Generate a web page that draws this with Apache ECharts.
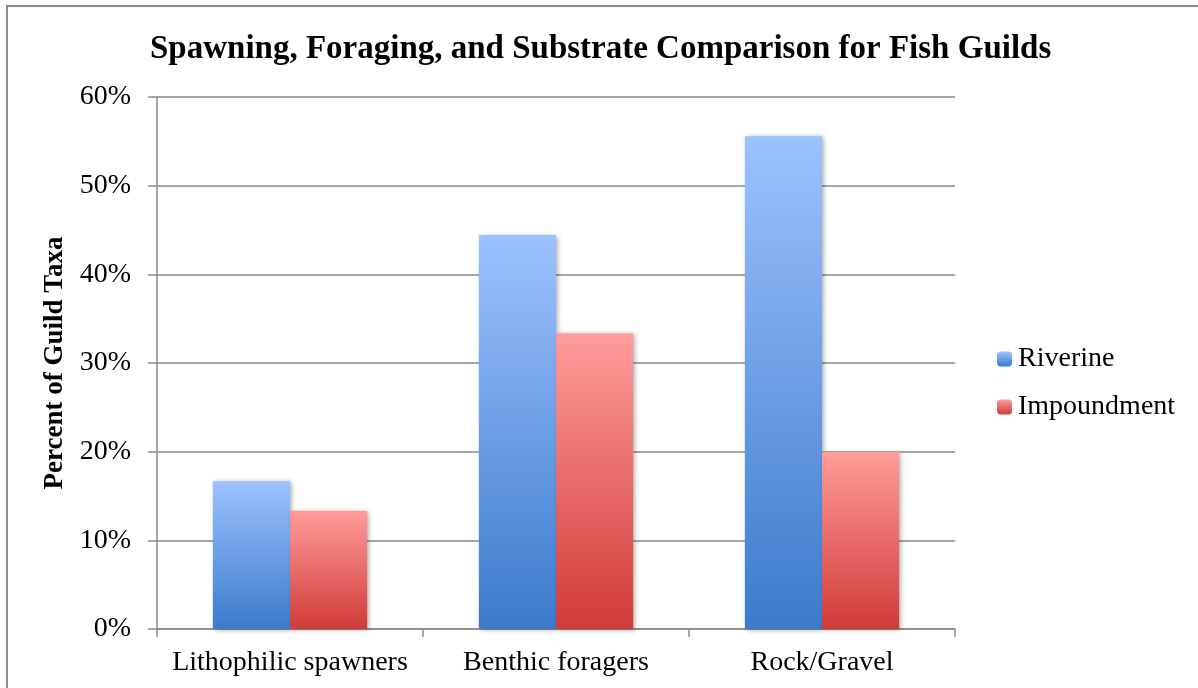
<!DOCTYPE html>
<html>
<head>
<meta charset="utf-8">
<script src="https://cdn.jsdelivr.net/npm/echarts@6/dist/echarts.min.js"></script>
<style>
  html, body { margin: 0; padding: 0; background: #fff; }
  #chart { width: 1198px; height: 688px; }
</style>
</head>
<body>
<div id="chart"></div>
<script>
// Guild categories and the share of taxa (percent) in each habitat
const categories = ['Lithophilic spawners', 'Benthic foragers', 'Rock/Gravel'];
const riverine = [16.67, 44.44, 55.56];
const impoundment = [13.33, 33.33, 20.0];
const yTicks = { min: 0, max: 60, interval: 10 };

const FONT = '"Liberation Serif", "DejaVu Serif", serif';
const GRID_COLOR = '#8a8a8a';

function vGrad(top, bottom) {
  return new echarts.graphic.LinearGradient(0, 0, 0, 1, [
    { offset: 0, color: top },
    { offset: 1, color: bottom }
  ]);
}

const barShadow = {
  shadowColor: 'rgba(0,0,0,0.35)',
  shadowBlur: 5,
  shadowOffsetX: 2,
  shadowOffsetY: 1
};

const chart = echarts.init(document.getElementById('chart'), null, { renderer: 'canvas' });
chart.setOption({
  backgroundColor: '#fff',
  animation: false,
  title: {
    text: 'Spawning, Foraging, and Substrate Comparison for Fish Guilds',
    left: 150,
    top: 33,
    padding: 0,
    textStyle: { fontFamily: FONT, fontWeight: 'bold', fontSize: 33, color: '#000' }
  },
  legend: {
    orient: 'vertical',
    left: 992,
    top: 340,
    itemWidth: 15,
    itemHeight: 15,
    itemGap: 20,
    textStyle: { fontFamily: FONT, fontSize: 28, color: '#000', padding: [0, 0, 0, 1] },
    data: ['Riverine', 'Impoundment']
  },
  grid: { left: 157, right: 243, top: 97, bottom: 59, containLabel: false },
  xAxis: {
    type: 'category',
    data: categories,
    axisLine: { show: true, lineStyle: { color: GRID_COLOR, width: 1.5 } },
    axisTick: { show: true, interval: 0, alignWithLabel: false, length: 8, lineStyle: { color: GRID_COLOR, width: 1.5 } },
    axisLabel: { interval: 0, hideOverlap: false, fontFamily: FONT, fontSize: 28, color: '#000', margin: 20 }
  },
  yAxis: {
    type: 'value',
    min: yTicks.min,
    max: yTicks.max,
    interval: yTicks.interval,
    name: 'Percent of Guild Taxa',
    nameLocation: 'middle',
    nameGap: 86,
    nameRotate: 90,
    nameTextStyle: { fontFamily: FONT, fontWeight: 'bold', fontSize: 27, color: '#000' },
    axisLine: { show: true, lineStyle: { color: GRID_COLOR, width: 1.5 } },
    axisTick: { show: true, length: 9, lineStyle: { color: GRID_COLOR, width: 1.5 } },
    axisLabel: { formatter: '{value}%', fontFamily: FONT, fontSize: 28, color: '#000', margin: 26 },
    splitLine: { show: true, lineStyle: { color: GRID_COLOR, width: 1.5 } }
  },
  series: [
    {
      name: 'Riverine',
      type: 'bar',
      data: riverine,
      barGap: '0%',
      barCategoryGap: '42%',
      itemStyle: Object.assign({ color: vGrad('#9cc2ff', '#3b7bcc') }, barShadow)
    },
    {
      name: 'Impoundment',
      type: 'bar',
      data: impoundment,
      itemStyle: Object.assign({ color: vGrad('#ff9c9a', '#d03b38') }, barShadow)
    }
  ],
  graphic: [
    // page frame: top rule and left rule
    { type: 'line', shape: { x1: 6, y1: 6, x2: 1198, y2: 6 }, style: { stroke: '#8c8c8c', lineWidth: 2 } },
    { type: 'line', shape: { x1: 7, y1: 6, x2: 7, y2: 688 }, style: { stroke: '#8c8c8c', lineWidth: 2 } }
  ]
});
</script>
</body>
</html>
